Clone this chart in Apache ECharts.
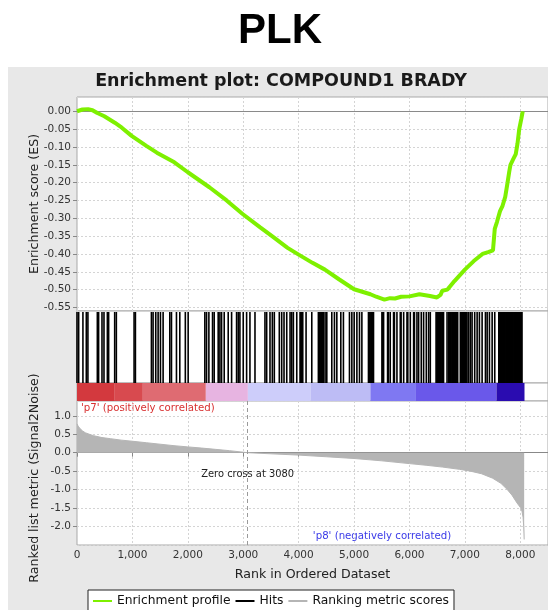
<!DOCTYPE html>
<html>
<head>
<meta charset="utf-8">
<title>PLK enrichment plot</title>
<script src="https://cdn.jsdelivr.net/npm/echarts@6/dist/echarts.min.js"></script>
<style>
  html, body { margin: 0; padding: 0; background: #fff; }
  #chart { width: 548px; height: 610px; }
</style>
</head>
<body>
<div id="chart"></div>
<script>
// running enrichment score (ES)
const esRank = [0, 100, 200, 280, 367, 493, 682, 809, 986, 1251, 1441, 1757, 2000, 2389, 2700, 2989, 3300, 3526, 3800, 4000,
  4250, 4474, 4727, 5000, 5295, 5400, 5548, 5650, 5738, 5850, 6000, 6180, 6370, 6496, 6560, 6591, 6686, 6812, 7000, 7160,
  7318, 7420, 7507, 7539, 7580, 7634, 7680, 7728, 7770, 7800, 7823, 7870, 7918, 7950, 7981, 8020, 8044];
const esValue = [0.0, 0.005, 0.006, 0.003, -0.005, -0.014, -0.032, -0.046, -0.069, -0.097, -0.116, -0.143, -0.171, -0.213, -0.25, -0.288, -0.325, -0.351, -0.383, -0.402,
  -0.425, -0.444, -0.471, -0.499, -0.513, -0.52, -0.528, -0.524, -0.525, -0.52, -0.519, -0.513, -0.518, -0.522, -0.515, -0.503, -0.5, -0.476, -0.444, -0.42,
  -0.4, -0.395, -0.39, -0.33, -0.31, -0.28, -0.265, -0.24, -0.2, -0.17, -0.15, -0.135, -0.12, -0.09, -0.05, -0.02, 0.0];

// gene set hits (rank positions)
const hitRanks = [0, 30, 107, 168, 197, 367, 390, 451, 487, 548, 571, 680, 710, 1030, 1054, 1343, 1373, 1421, 1464, 1506,
  1554, 1675, 1705, 1795, 1855, 1955, 2006, 2307, 2338, 2380, 2446, 2476, 2548, 2579, 2609, 2657, 2729, 2790, 2880, 2910,
  2940, 3000, 3061, 3121, 3212, 3392, 3423, 3483, 3525, 3561, 3651, 3694, 3736, 3785, 3845, 3875, 3905, 3966, 4025, 4040,
  4056, 4074, 4134, 4237, 4356, 4371, 4386, 4401, 4416, 4431, 4447, 4477, 4508, 4598, 4646, 4689, 4761, 4808, 4917, 4960,
  5002, 5051, 5098, 5141, 5260, 5275, 5290, 5305, 5320, 5335, 5351, 5503, 5518, 5533, 5605, 5620, 5653, 5713, 5728, 5774,
  5834, 5849, 5895, 5955, 5970, 6015, 6075, 6090, 6135, 6165, 6213, 6255, 6304, 6346, 6376, 6480, 6495, 6510, 6525, 6540,
  6555, 6570, 6585, 6600, 6615, 6678, 6707, 6722, 6737, 6752, 6767, 6782, 6797, 6812, 6827, 6842, 6857, 6870, 6918, 6933,
  6948, 6963, 6978, 6993, 7008, 7023, 7039, 7069, 7100, 7130, 7177, 7221, 7262, 7311, 7371, 7402, 7443, 7492, 7539, 7612,
  7625, 7640, 7655, 7668, 7684, 7697, 7712, 7726, 7741, 7755, 7770, 7784, 7799, 7813, 7828, 7842, 7857, 7871, 7886, 7900,
  7915, 7929, 7944, 7958, 7973, 7987, 8002, 8016, 8031];

// ranked list metric (Signal2Noise)
const metricRank = [0, 20, 50, 100, 150, 220, 300, 450, 600, 800, 1000, 1250, 1500, 1750, 2000, 2250, 2500, 2750, 3080, 3500,
  4000, 4500, 5000, 5500, 6000, 6300, 6600, 6900, 7100, 7300, 7500, 7650, 7760, 7850, 7940, 8000, 8030, 8050, 8062, 8070];
const metricValue = [0.78, 0.72, 0.66, 0.59, 0.54, 0.5, 0.46, 0.41, 0.38, 0.34, 0.31, 0.27, 0.23, 0.19, 0.157, 0.125, 0.09, 0.055, 0.0, -0.03,
  -0.065, -0.11, -0.157, -0.22, -0.296, -0.34, -0.39, -0.45, -0.5, -0.57, -0.69, -0.83, -0.99, -1.15, -1.36, -1.48, -1.58, -1.75, -2.0, -2.35];

// colour bar bands along the ranked list
const bandStart = [0, 682, 1188, 2325, 3084, 4221, 5295, 6117, 7570];
const bandEnd = [682, 1188, 2325, 3084, 4221, 5295, 6117, 7570, 8076];

const zeroCross = 3080;
const xTicks = [0, 1000, 2000, 3000, 4000, 5000, 6000, 7000, 8000];

const bandColors = ['#d3393e', '#d84a4f', '#df6b72', '#e7b4e1', '#cdcdfa', '#bdbcf5', '#7f78f2', '#6a58ea', '#2a0cb0'];
const FONT = 'DejaVu Sans';
const GREEN = '#7ef000';

const chart = echarts.init(document.getElementById('chart'));

const gridLine = { show: true, lineStyle: { color: '#d4d4d4', type: [2, 2], width: 1 } };
const plotGrid = { left: 77, right: 0, show: true, backgroundColor: '#fff', borderColor: '#a8a8a8', borderWidth: 1 };
const hiddenX = (gi) => ({
  type: 'value', gridIndex: gi, min: 0, max: 8500, interval: 1000,
  axisLine: { show: false }, axisTick: { show: false }, axisLabel: { show: false }, splitLine: { show: false }
});

chart.setOption({
  animation: false,
  backgroundColor: '#fff',
  textStyle: { fontFamily: FONT },
  graphic: [
    { type: 'rect', z: -10, shape: { x: 8, y: 67, width: 540, height: 543 }, style: { fill: '#e8e8e8' } },
    { type: 'text', x: 280, y: 31, style: { text: 'PLK', font: 'bold 42px "Liberation Sans", Arial', fill: '#000', align: 'center', verticalAlign: 'middle' } },
    { type: 'text', x: 281, y: 81, style: { text: 'Enrichment plot: COMPOUND1 BRADY', font: 'bold 17.5px "DejaVu Sans"', fill: '#1a1a1a', align: 'center', verticalAlign: 'middle' } },
    { type: 'text', x: 35, y: 204, rotation: Math.PI / 2, style: { text: 'Enrichment score (ES)', font: '12.6px "DejaVu Sans"', fill: '#222', align: 'center', verticalAlign: 'middle' } },
    { type: 'text', x: 35, y: 478, rotation: Math.PI / 2, style: { text: 'Ranked list metric (Signal2Noise)', font: '12.6px "DejaVu Sans"', fill: '#222', align: 'center', verticalAlign: 'middle' } },
    { type: 'text', x: 81, y: 408, style: { text: "'p7' (positively correlated)", font: '10.2px "DejaVu Sans"', fill: '#d83030', verticalAlign: 'middle' } },
    { type: 'text', x: 382, y: 536, style: { text: "'p8' (negatively correlated)", font: '10.2px "DejaVu Sans"', fill: '#3a3ae8', align: 'center', verticalAlign: 'middle' } }
  ],
  legend: {
    left: 88, top: 590,
    backgroundColor: '#fff', borderColor: '#222', borderWidth: 1,
    padding: [5, 5, 8, 5], itemGap: 5, itemWidth: 19, itemHeight: 2, icon: 'rect',
    textStyle: { fontFamily: FONT, fontSize: 12.3, color: '#111' },
    data: [
      { name: 'Enrichment profile' },
      { name: 'Hits', textStyle: { padding: [0, 28, 0, 0] } },
      { name: 'Ranking metric scores' }
    ]
  },
  grid: [
    Object.assign({ top: 97, height: 214 }, plotGrid),
    Object.assign({ top: 311, height: 72 }, plotGrid),
    Object.assign({ top: 383, height: 18 }, plotGrid),
    Object.assign({ top: 401, height: 144 }, plotGrid)
  ],
  xAxis: [
    { type: 'value', gridIndex: 0, min: 0, max: 8500, interval: 1000,
      axisLine: { show: false }, axisTick: { show: false }, axisLabel: { show: false }, splitLine: gridLine },
    hiddenX(1),
    hiddenX(2),
    { type: 'value', gridIndex: 3, min: 0, max: 8500, interval: 1000,
      name: 'Rank in Ordered Dataset', nameLocation: 'middle', nameGap: 23,
      nameTextStyle: { fontFamily: FONT, fontSize: 12.6, color: '#222' },
      axisLine: { show: true, lineStyle: { color: '#888' } },
      axisTick: { show: true, length: 4, lineStyle: { color: '#888' } },
      axisLabel: { fontFamily: FONT, fontSize: 10.5, color: '#333', margin: 5, showMaxLabel: false,
        formatter: (v) => xTicks.includes(v) ? v.toLocaleString('en-US') : '' },
      splitLine: gridLine }
  ],
  yAxis: [
    { type: 'value', gridIndex: 0, min: -0.56, max: 0.04, splitNumber: 12,
      axisLine: { show: false },
      axisTick: { show: true, length: 4, lineStyle: { color: '#888' } },
      axisLabel: { fontFamily: FONT, fontSize: 10.5, color: '#333', margin: 6, showMinLabel: false, showMaxLabel: false,
        formatter: (v) => v.toFixed(2) },
      splitLine: gridLine },
    { type: 'value', gridIndex: 1, min: 0, max: 1, show: false },
    { type: 'value', gridIndex: 2, min: 0, max: 1, show: false },
    { type: 'value', gridIndex: 3, min: -2.5, max: 1.4, interval: 0.5,
      axisLine: { show: false },
      axisTick: { show: true, length: 4, lineStyle: { color: '#888' } },
      axisLabel: { fontFamily: FONT, fontSize: 10.5, color: '#333', margin: 6, showMinLabel: false, showMaxLabel: false,
        formatter: (v) => v.toFixed(1) },
      splitLine: gridLine }
  ],
  series: [
    {
      name: 'Enrichment profile', type: 'line', xAxisIndex: 0, yAxisIndex: 0,
      data: esRank.map((r, i) => [r, esValue[i]]),
      showSymbol: false, symbol: 'none', z: 5,
      lineStyle: { color: GREEN, width: 4 }, itemStyle: { color: GREEN },
      markLine: {
        silent: true, symbol: 'none', label: { show: false },
        lineStyle: { color: '#8a8a8a', type: 'solid', width: 1 },
        data: [{ yAxis: 0 }]
      }
    },
    {
      name: 'Hits', type: 'custom', xAxisIndex: 1, yAxisIndex: 1,
      data: hitRanks.map((r) => [r, 0]),
      encode: { x: 0, y: 1 },
      itemStyle: { color: '#000' },
      renderItem: (params, api) => {
        const x = api.coord([api.value(0), 0])[0];
        const cs = params.coordSys;
        return { type: 'line', shape: { x1: x, y1: cs.y + 1, x2: x, y2: cs.y + cs.height },
          style: { stroke: '#000', lineWidth: 1.6 } };
      }
    },
    {
      name: 'colour bar', type: 'custom', xAxisIndex: 2, yAxisIndex: 2,
      data: bandStart.map((s, i) => [s, bandEnd[i], i]),
      encode: { x: [0, 1] },
      renderItem: (params, api) => {
        const p0 = api.coord([api.value(0), 0]);
        const p1 = api.coord([api.value(1), 0]);
        const cs = params.coordSys;
        return { type: 'rect', shape: { x: p0[0], y: cs.y, width: p1[0] - p0[0], height: cs.height },
          style: { fill: bandColors[api.value(2)] } };
      }
    },
    {
      name: 'Ranking metric scores', type: 'line', xAxisIndex: 3, yAxisIndex: 3,
      data: metricRank.map((r, i) => [r, metricValue[i]]),
      showSymbol: false, symbol: 'none',
      lineStyle: { color: '#b5b5b5', width: 1 }, itemStyle: { color: '#b5b5b5' },
      areaStyle: { color: '#b5b5b5', opacity: 1 },
      markLine: {
        silent: true, symbol: 'none', label: { show: false },
        lineStyle: { color: '#9a9a9a', type: [4, 3], width: 1 },
        data: [{ xAxis: zeroCross }]
      },
      markPoint: {
        silent: true, symbol: 'circle', symbolSize: 1,
        itemStyle: { color: 'rgba(0,0,0,0)' },
        label: { show: true, position: 'inside', formatter: 'Zero cross at ' + zeroCross,
          fontFamily: FONT, fontSize: 9.9, color: '#222' },
        data: [{ coord: [zeroCross, -0.6] }]
      }
    }
  ]
});
</script>
</body>
</html>
